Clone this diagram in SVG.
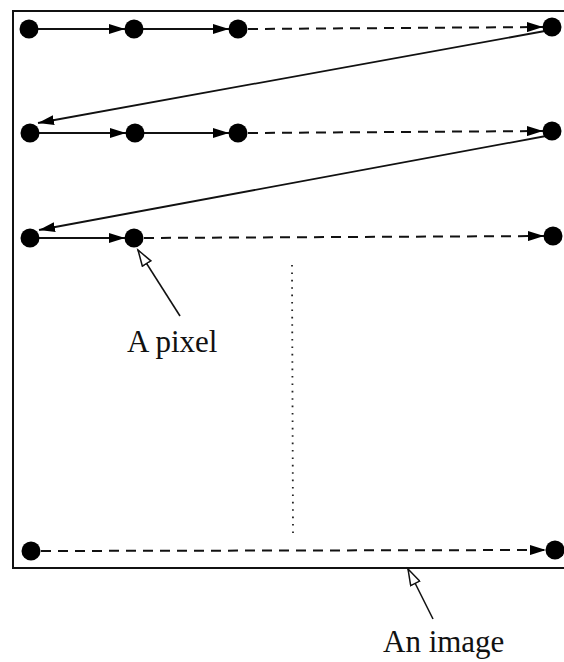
<svg xmlns="http://www.w3.org/2000/svg" width="564" height="662" viewBox="0 0 564 662">
  <style>
    .frame { fill: none; stroke: #111; stroke-width: 2; }
    .pix { fill: #000; }
    .solid { fill: none; stroke: #111; stroke-width: 1.8; marker-end: url(#head); }
    .dash { fill: none; stroke: #111; stroke-width: 2; stroke-dasharray: 10 7; marker-end: url(#head); }
    .dots { fill: none; stroke: #222; stroke-width: 1.8; stroke-dasharray: 1.6 5.8; }
    .pointer { fill: none; stroke: #111; stroke-width: 1.6; marker-end: url(#hollow); }
    .label { font-family: "Liberation Serif", "Times New Roman", serif; font-size: 31px; fill: #111; }
  </style>
  <defs>
    <marker id="head" markerUnits="userSpaceOnUse" markerWidth="17" markerHeight="10" refX="16" refY="5" orient="auto" viewBox="0 0 17 10">
      <path d="M0,0 L16,5 L0,10 Z" fill="#000"/>
    </marker>
    <marker id="hollow" markerUnits="userSpaceOnUse" markerWidth="20" markerHeight="12" refX="17" refY="6" orient="auto" viewBox="0 0 20 12">
      <path d="M1,1 L17,6 L1,11 Z" fill="#fff" stroke="#111" stroke-width="1.5"/>
    </marker>
  </defs>

  <!-- image border, open on the right -->
  <g id="image-frame">
    <path class="frame" d="M566,11 L13,11 L13,568 L566,568"/>
  </g>

  <!-- scan-order connectors -->
  <g id="connectors">
    <path class="solid" d="M38,29 L125,29"/>
    <path class="solid" d="M143,29 L229,29"/>
    <path class="dash" d="M248,29 L543,27"/>
    <path class="solid" d="M545,31 L38,123"/>
    <path class="solid" d="M39,133 L126,133"/>
    <path class="solid" d="M144,133 L229,133"/>
    <path class="dash" d="M248,133 L543,131"/>
    <path class="solid" d="M546,136 L39,230"/>
    <path class="solid" d="M39,238 L125,238"/>
    <path class="dash" d="M144,238 L544,236"/>
    <path class="dash" d="M41,551 L546,550"/>
    <path class="dots" d="M292,265 L293,533"/>
  </g>

  <!-- pixels -->
  <g id="row1">
    <circle class="pix" cx="29" cy="29" r="9.5"/>
    <circle class="pix" cx="134" cy="29" r="9.5"/>
    <circle class="pix" cx="238" cy="29" r="9.5"/>
    <circle class="pix" cx="552" cy="27" r="9.5"/>
  </g>
  <g id="row2">
    <circle class="pix" cx="30" cy="133" r="9.5"/>
    <circle class="pix" cx="135" cy="133" r="9.5"/>
    <circle class="pix" cx="238" cy="133" r="9.5"/>
    <circle class="pix" cx="552" cy="131" r="9.5"/>
  </g>
  <g id="row3">
    <circle class="pix" cx="30" cy="238" r="9.5"/>
    <circle class="pix" cx="134" cy="238" r="9.5"/>
    <circle class="pix" cx="553" cy="236" r="9.5"/>
  </g>
  <g id="row-last">
    <circle class="pix" cx="31" cy="551" r="9.5"/>
    <circle class="pix" cx="555" cy="550" r="9.5"/>
  </g>

  <!-- callouts -->
  <g id="pixel-label">
    <path class="pointer" d="M180,316 L138,250"/>
    <text class="label" x="127" y="352">A pixel</text>
  </g>
  <g id="image-label">
    <path class="pointer" d="M433,619 L408,569"/>
    <text class="label" x="383" y="652">An image</text>
  </g>
</svg>
